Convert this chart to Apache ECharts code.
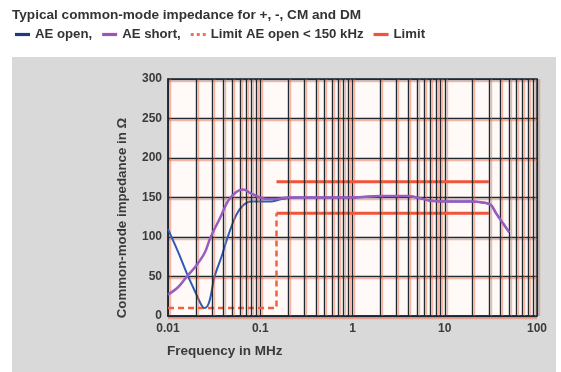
<!DOCTYPE html>
<html><head><meta charset="utf-8">
<script src="https://cdn.jsdelivr.net/npm/echarts@6/dist/echarts.min.js"></script>
<style>html,body{margin:0;padding:0;background:#fff}#c{width:561px;height:372px}</style>
</head><body><div id="c"></div>
<script>
// Data (frequency in MHz, impedance in Ohm)
const openFreq = [0.01, 0.013, 0.016, 0.02, 0.023, 0.025, 0.028, 0.032, 0.038, 0.045, 0.055, 0.065, 0.08, 0.1, 0.13, 0.17, 0.25, 0.5, 1, 2, 4, 5, 7, 10, 20, 28, 32, 36, 43, 50];
const openVal  = [110, 80, 54, 29, 14, 10, 18, 50, 75, 102, 128, 140, 145, 145, 145, 148, 150, 150, 150, 152, 152, 150, 146, 145, 145, 143, 140, 130, 117, 106];
const shortFreq = [0.01, 0.013, 0.016, 0.02, 0.025, 0.029, 0.037, 0.045, 0.055, 0.065, 0.08, 0.1, 0.12, 0.15, 0.2, 0.5, 1, 2, 4, 5, 7, 10, 20, 28, 32, 36, 43, 50];
const shortVal  = [27, 37, 50, 63, 80, 100, 125, 146, 157, 160, 155, 150, 148, 148, 150, 150, 150, 152, 152, 150, 146, 145, 145, 143, 140, 130, 117, 106];
const limitOpenFreq = [0.01, 0.15, 0.15];
const limitOpenVal  = [10, 10, 130];
const limitFreq = [0.15, 30];
const limitUpper = [170, 170];
const limitLower = [130, 130];
const xTicks = [0.01, 0.1, 1, 10, 100];

const zip = (a, b) => a.map((x, i) => [x, b[i]]);
const minorX = [];
xTicks.slice(0, -1).forEach(d => { for (let k = 2; k <= 9; k++) minorX.push(+(d * k).toPrecision(3)); });

const gridColor = '#1d2a30';
const limitColor = '#f0553a';
const font = '"Liberation Sans", Arial, sans-serif';
const shadow = 'rgba(240,110,80,0.5)';
const chart = echarts.init(document.getElementById('c'), null, {renderer: 'canvas'});
chart.setOption({
  backgroundColor: '#ffffff',
  animation: false,
  graphic: [
    {type: 'rect', shape: {x: 12, y: 57, width: 544, height: 315}, style: {fill: '#d9d9d9'}, z: -10},
    {type: 'text', left: 167, top: 344, style: {text: 'Frequency in MHz', font: 'bold 13.5px ' + font, fill: '#3a3a3a'}},
    {type: 'text', x: 122, y: 218, rotation: Math.PI / 2,
      style: {text: 'Common-mode impedance in Ω', font: 'bold 13.3px ' + font, fill: '#3a3a3a', align: 'center', verticalAlign: 'middle'}}
  ],
  title: {
    text: 'Typical common-mode impedance for +, -, CM and DM',
    left: 7, top: 3,
    textStyle: {fontFamily: font, fontWeight: 'bold', fontSize: 13.6, color: '#333'}
  },
  legend: {
    left: 10, top: 23, itemWidth: 15, itemHeight: 10, itemGap: 10,
    textStyle: {fontFamily: font, fontWeight: 'bold', fontSize: 13.2, color: '#333'},
    data: [
      {name: 'AE open,', icon: 'path://M0,4h15v3.2h-15z', itemStyle: {color: '#1f3c7a'}},
      {name: 'AE short,', icon: 'path://M0,4h15v3.2h-15z', itemStyle: {color: '#9a55b8'}},
      {name: 'Limit AE open < 150 kHz', icon: 'path://M0,4h3v3h-3zM6,4h3v3h-3zM12,4h3v3h-3z', itemStyle: {color: '#f2734f'}},
      {name: 'Limit', icon: 'path://M0,4h15v3.2h-15z', itemStyle: {color: limitColor}}
    ]
  },
  grid: {left: 168, top: 79, right: 24, bottom: 56, show: true, backgroundColor: '#fffaf8', borderColor: gridColor, borderWidth: 1.5},
  xAxis: {
    type: 'log', logBase: 10, min: 0.01, max: 100,
    axisLine: {show: true, lineStyle: {color: gridColor, width: 1.5}},
    axisTick: {show: false},
    axisLabel: {fontFamily: font, fontWeight: 'bold', fontSize: 12, color: '#3a3a3a', margin: 7,
      formatter: v => String(+v.toPrecision(2))},
    splitLine: {show: true, lineStyle: {color: gridColor, width: 1.4, shadowColor: shadow, shadowOffsetX: 2}}
  },
  yAxis: {
    type: 'value', min: 0, max: 300, interval: 50,
    axisLine: {show: true, lineStyle: {color: gridColor, width: 1.5}},
    axisTick: {show: false},
    axisLabel: {fontFamily: font, fontWeight: 'bold', fontSize: 12, color: '#3a3a3a', margin: 6},
    splitLine: {show: true, lineStyle: {color: gridColor, width: 1.4, shadowColor: shadow, shadowOffsetY: 2}}
  },
  series: [
    {
      name: 'grid-minor', type: 'line', data: [], silent: true,
      markLine: {silent: true, symbol: 'none', label: {show: false},
        lineStyle: {type: 'solid', color: gridColor, width: 1.4, shadowColor: shadow, shadowOffsetX: 2},
        data: minorX.map(v => ({xAxis: v}))}
    },
    {name: 'Limit', type: 'line', data: zip(limitFreq, limitUpper), symbol: 'none', color: limitColor, lineStyle: {width: 3, color: limitColor}, z: 3},
    {name: 'Limit', type: 'line', data: zip(limitFreq, limitLower), symbol: 'none', color: limitColor, lineStyle: {width: 3, color: limitColor}, z: 3},
    {name: 'Limit AE open < 150 kHz', type: 'line', data: zip(limitOpenFreq, limitOpenVal), symbol: 'none', color: '#f2734f', lineStyle: {width: 2.5, type: [6, 4], color: '#f2603f'}, z: 3},
    {name: 'AE open,', type: 'line', data: zip(openFreq, openVal), symbol: 'none', smooth: 0.35, color: '#1f3c7a', lineStyle: {width: 2, color: '#2d5cb5'}, z: 4},
    {name: 'AE short,', type: 'line', data: zip(shortFreq, shortVal), symbol: 'none', smooth: 0.35, color: '#9a55b8', lineStyle: {width: 2.5, color: '#9a5cc0'}, z: 5}
  ]
});
</script></body></html>
